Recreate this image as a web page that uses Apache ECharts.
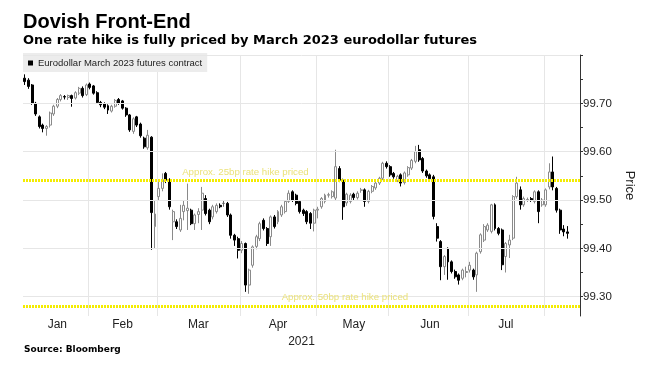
<!DOCTYPE html>
<html><head><meta charset="utf-8">
<script src="https://cdn.jsdelivr.net/npm/echarts@6/dist/echarts.min.js"></script>
<style>html,body{margin:0;padding:0;background:#fff;}#c{width:658px;height:371px;}</style>
</head><body><div id="c"></div>
<script>
// ---- DATA ----
const monthNames = ['Jan','Feb','Mar','Apr','May','Jun','Jul','Aug'];
const firstDay = '2021-01-05';
const lastDay = '2021-08-13';
const holidays = ['2021-01-18','2021-02-15','2021-04-02','2021-05-31','2021-07-05'];
// candles as [open, close, low, high]
const jan = [
 [99.752,99.745,99.738,99.760],[99.748,99.735,99.730,99.752],[99.738,99.700,99.697,99.740],
 [99.700,99.678,99.674,99.703],[99.672,99.652,99.648,99.675],[99.655,99.648,99.640,99.658],
 [99.648,99.652,99.633,99.655],[99.655,99.680,99.650,99.683],[99.678,99.694,99.674,99.697],
 [99.694,99.708,99.690,99.711],[99.708,99.716,99.704,99.719],[99.714,99.713,99.708,99.717],
 [99.712,99.716,99.707,99.718],[99.716,99.710,99.693,99.718],[99.711,99.722,99.708,99.725],
 [99.721,99.731,99.717,99.734],[99.731,99.716,99.712,99.735],[99.718,99.738,99.715,99.741]
];
const feb = [
 [99.740,99.733,99.729,99.743],[99.736,99.721,99.718,99.738],[99.722,99.702,99.699,99.725],
 [99.702,99.697,99.692,99.705],[99.699,99.692,99.688,99.702],[99.695,99.686,99.678,99.698],
 [99.684,99.694,99.681,99.697],[99.694,99.706,99.691,99.709],[99.708,99.700,99.697,99.711],
 [99.705,99.690,99.687,99.707],[99.690,99.676,99.672,99.692],[99.676,99.645,99.641,99.678],
 [99.642,99.668,99.637,99.671],[99.672,99.655,99.651,99.674],[99.657,99.633,99.629,99.660],
 [99.628,99.610,99.606,99.631],[99.608,99.634,99.604,99.645],[99.630,99.474,99.397,99.632],
 [99.445,99.471,99.400,99.500]
];
const mar = [
 [99.507,99.524,99.500,99.541],[99.524,99.542,99.518,99.555],[99.555,99.541,99.535,99.558],
 [99.540,99.486,99.480,99.545],[99.455,99.476,99.417,99.480],[99.455,99.445,99.440,99.460],
 [99.438,99.462,99.434,99.490],[99.476,99.489,99.458,99.500],[99.478,99.483,99.438,99.534],
 [99.479,99.451,99.448,99.482],[99.451,99.469,99.438,99.472],[99.470,99.476,99.452,99.483],
 [99.479,99.514,99.438,99.527],[99.503,99.472,99.468,99.510],[99.479,99.455,99.450,99.482],
 [99.465,99.486,99.460,99.490],[99.476,99.489,99.472,99.493],[99.489,99.486,99.483,99.493],
 [99.493,99.493,99.486,99.500],[99.493,99.469,99.465,99.496],[99.469,99.427,99.420,99.472],
 [99.427,99.417,99.405,99.430],[99.420,99.396,99.379,99.424]
];
const apr = [
 [99.396,99.410,99.390,99.415],[99.410,99.324,99.310,99.412],[99.324,99.355,99.306,99.358],
 [99.365,99.403,99.360,99.406],[99.404,99.424,99.398,99.428],[99.420,99.451,99.415,99.455],
 [99.458,99.441,99.437,99.462],[99.441,99.410,99.405,99.444],[99.424,99.465,99.405,99.468],
 [99.465,99.445,99.441,99.469],[99.455,99.476,99.450,99.479],[99.469,99.486,99.465,99.490],
 [99.476,99.497,99.472,99.500],[99.497,99.514,99.494,99.520],[99.517,99.500,99.496,99.520],
 [99.510,99.493,99.489,99.513],[99.497,99.476,99.472,99.500],[99.479,99.472,99.467,99.482],
 [99.476,99.455,99.450,99.479],[99.472,99.452,99.440,99.475],[99.452,99.479,99.435,99.482]
];
const may = [
 [99.479,99.481,99.462,99.486],[99.486,99.503,99.482,99.506],[99.497,99.510,99.493,99.513],
 [99.510,99.511,99.505,99.515],[99.507,99.517,99.503,99.520],[99.504,99.569,99.500,99.604],
 [99.565,99.541,99.537,99.570],[99.541,99.486,99.459,99.544],[99.494,99.512,99.488,99.515],
 [99.497,99.510,99.493,99.514],[99.512,99.505,99.500,99.515],[99.505,99.514,99.501,99.518],
 [99.520,99.521,99.515,99.525],[99.521,99.497,99.486,99.524],[99.497,99.518,99.493,99.521],
 [99.518,99.528,99.514,99.531],[99.525,99.535,99.521,99.538],[99.535,99.545,99.531,99.548],
 [99.545,99.576,99.541,99.579],[99.576,99.569,99.565,99.580]
];
const jun = [
 [99.569,99.552,99.548,99.572],[99.555,99.548,99.544,99.558],[99.541,99.549,99.537,99.552],
 [99.552,99.535,99.528,99.555],[99.536,99.556,99.532,99.559],[99.552,99.567,99.548,99.570],
 [99.566,99.582,99.562,99.585],[99.580,99.600,99.576,99.612],[99.604,99.583,99.579,99.614],
 [99.586,99.560,99.556,99.589],[99.560,99.550,99.546,99.563],[99.552,99.544,99.540,99.555],
 [99.548,99.466,99.460,99.552],[99.445,99.421,99.414,99.452],[99.414,99.362,99.334,99.417],
 [99.362,99.383,99.345,99.386],[99.400,99.372,99.335,99.402],[99.372,99.352,99.348,99.375],
 [99.352,99.341,99.337,99.356],[99.345,99.334,99.325,99.348],[99.338,99.355,99.334,99.358],
 [99.350,99.352,99.340,99.362]
];
const jul = [
 [99.355,99.365,99.350,99.372],[99.355,99.341,99.335,99.358],[99.345,99.390,99.310,99.393],
 [99.393,99.428,99.389,99.431],[99.417,99.445,99.413,99.450],[99.438,99.448,99.434,99.452],
 [99.435,99.490,99.431,99.492],[99.490,99.441,99.437,99.493],[99.441,99.431,99.427,99.444],
 [99.438,99.366,99.355,99.441],[99.383,99.410,99.350,99.413],[99.407,99.417,99.380,99.428],
 [99.421,99.507,99.417,99.510],[99.507,99.535,99.503,99.548],[99.521,99.490,99.480,99.528],
 [99.490,99.503,99.486,99.507],[99.500,99.501,99.496,99.505],[99.503,99.500,99.496,99.506],
 [99.497,99.517,99.493,99.520],[99.517,99.476,99.452,99.520],[99.490,99.500,99.486,99.504]
];
const aug = [
 [99.490,99.521,99.486,99.524],[99.527,99.558,99.522,99.576],[99.558,99.527,99.520,99.590],
 [99.524,99.479,99.474,99.527],[99.479,99.438,99.430,99.482],[99.440,99.434,99.425,99.448],
 [99.434,99.431,99.420,99.446]
];
const yLabelValues = [99.3, 99.4, 99.5, 99.6, 99.7];
const yTickValues = [99.3, 99.35, 99.4, 99.45, 99.5, 99.55, 99.6, 99.65, 99.7, 99.75, 99.8];
const gridValues = [99.3, 99.4, 99.5, 99.6, 99.7, 99.8];
const hikeLevels = [99.541, 99.283];
const hikeLabels = ['Approx. 25bp rate hike priced', 'Approx. 50bp rate hike priced'];
const hikeLabelSpan = [['2021-03-11','2021-04-27'], ['2021-04-16','2021-06-09']];
const seriesName = 'Eurodollar March 2023 futures contract';

// ---- BUILD ----
const dates = [];
(function(){
  let d = new Date(firstDay + 'T00:00:00Z');
  const end = new Date(lastDay + 'T00:00:00Z');
  while (d <= end) {
    const s = d.toISOString().slice(0,10);
    const wd = d.getUTCDay();
    if (wd !== 0 && wd !== 6 && holidays.indexOf(s) < 0) dates.push(s);
    d = new Date(d.getTime() + 86400000);
  }
})();
const candles = [].concat(jan, feb, mar, apr, may, jun, jul, aug);
const seriesData = dates.map((s, i) => i < candles.length ? candles[i] : '-');
const monthOf = s => parseInt(s.slice(5,7), 10) - 1;
const boundaryIdx = new Set();
const monthRanges = {};
dates.forEach((s, i) => {
  const m = monthOf(s);
  if (i > 0 && monthOf(dates[i-1]) !== m) boundaryIdx.add(i);
  if (!monthRanges[m]) monthRanges[m] = [i, i]; else monthRanges[m][1] = i;
});
const labelIdx = new Set();
for (let m = 0; m < 7; m++) {
  const r = monthRanges[m];
  labelIdx.add(Math.ceil((r[0] + r[1]) / 2));
}
const FONT = 'Liberation Sans, Arial, sans-serif';
const NARROW = '"Liberation Sans Narrow", "Arial Narrow", "Liberation Sans", sans-serif';
const WIDE = '"DejaVu Sans", Verdana, sans-serif';

const gridLines = gridValues.map(v => ({yAxis: v, lineStyle:{color:'#e6e6e6', width:1, type:'solid'}, label:{show:false}}));
const hikeLines = hikeLevels.map(v => ({yAxis: v, lineStyle:{color:'#f4ec00', width:3, type:[2,1]}, label:{show:false}}));
const hikeTexts = hikeLevels.map((v, k) => [
  {coord:[hikeLabelSpan[k][0], v], lineStyle:{color:'rgba(0,0,0,0)', width:1},
   label:{show:true, position:'insideMiddleTop', formatter: hikeLabels[k], color:'#ebe27a', fontSize:9.7, fontFamily:FONT, distance:3}},
  {coord:[hikeLabelSpan[k][1], v]}
]);

const chart = echarts.init(document.getElementById('c'), null, {renderer:'canvas'});
chart.setOption({
  animation: false,
  backgroundColor: '#ffffff',
  title: [
    {text:'Dovish Front-End', left:23, top:12, padding:0, textStyle:{fontFamily:NARROW, fontSize:20, fontWeight:'bold', color:'#000'}},
    {text:'One rate hike is fully priced by March 2023 eurodollar futures', left:23, top:34, padding:0, textStyle:{fontFamily:WIDE, fontSize:13, fontWeight:'bold', color:'#000'}},
    {text:'Source: Bloomberg', left:24, top:345, padding:0, textStyle:{fontFamily:WIDE, fontSize:9, fontWeight:'bold', color:'#000'}}
  ],
  legend: {
    left:23, top:53, padding:[4,5,3,5], backgroundColor:'#ececec',
    itemWidth:5, itemHeight:5, selectedMode:false,
    textStyle:{fontFamily:FONT, fontSize:9.5, color:'#222', lineHeight:12},
    data:[{name:seriesName, icon:'rect', itemStyle:{color:'#000', borderWidth:0}}]
  },
  grid: {left:23, right:78, top:55, bottom:55, containLabel:false},
  xAxis: {
    type:'category', data:dates, boundaryGap:true,
    axisLine:{show:false}, axisTick:{show:false},
    axisLabel:{interval:(i)=>labelIdx.has(i), formatter:(v)=>monthNames[monthOf(v)], color:'#222', fontSize:12, fontFamily:FONT, margin:3, hideOverlap:false},
    splitLine:{show:true, interval:(i)=>boundaryIdx.has(i), lineStyle:{color:'#e6e6e6', width:1}},
    name:'2021', nameLocation:'middle', nameGap:13, nameTextStyle:{color:'#222', fontSize:12, fontFamily:FONT}
  },
  yAxis: {
    type:'value', position:'right', min:99.26, max:99.80, scale:true,
    axisLine:{show:true, lineStyle:{color:'#333', width:1}},
    axisTick:{show:true, inside:false, length:3, customValues:yTickValues, lineStyle:{color:'#333'}},
    axisLabel:{customValues:yLabelValues, formatter:(v)=>v.toFixed(2), margin:3, fontSize:11.5, fontFamily:FONT, color:'#222'},
    splitLine:{show:false},
    name:'Price', nameLocation:'middle', nameRotate:-90, nameGap:37, nameTextStyle:{fontSize:13, fontFamily:FONT, color:'#222'}
  },
  series: [
    {type:'line', name:'_grid', data:[], z:1, silent:true,
     markLine:{silent:true, symbol:['none','none'], animation:false, data: gridLines.concat(hikeLines, hikeTexts)}},
    {type:'candlestick', name:seriesName, data:seriesData, z:3, barWidth:'68%',
     itemStyle:{color:'#ffffff', color0:'#000000', borderColor:'#8a8a8a', borderColor0:'#000000', borderColorDoji:'#666666', borderWidth:1}}
  ]
});
</script></body></html>
